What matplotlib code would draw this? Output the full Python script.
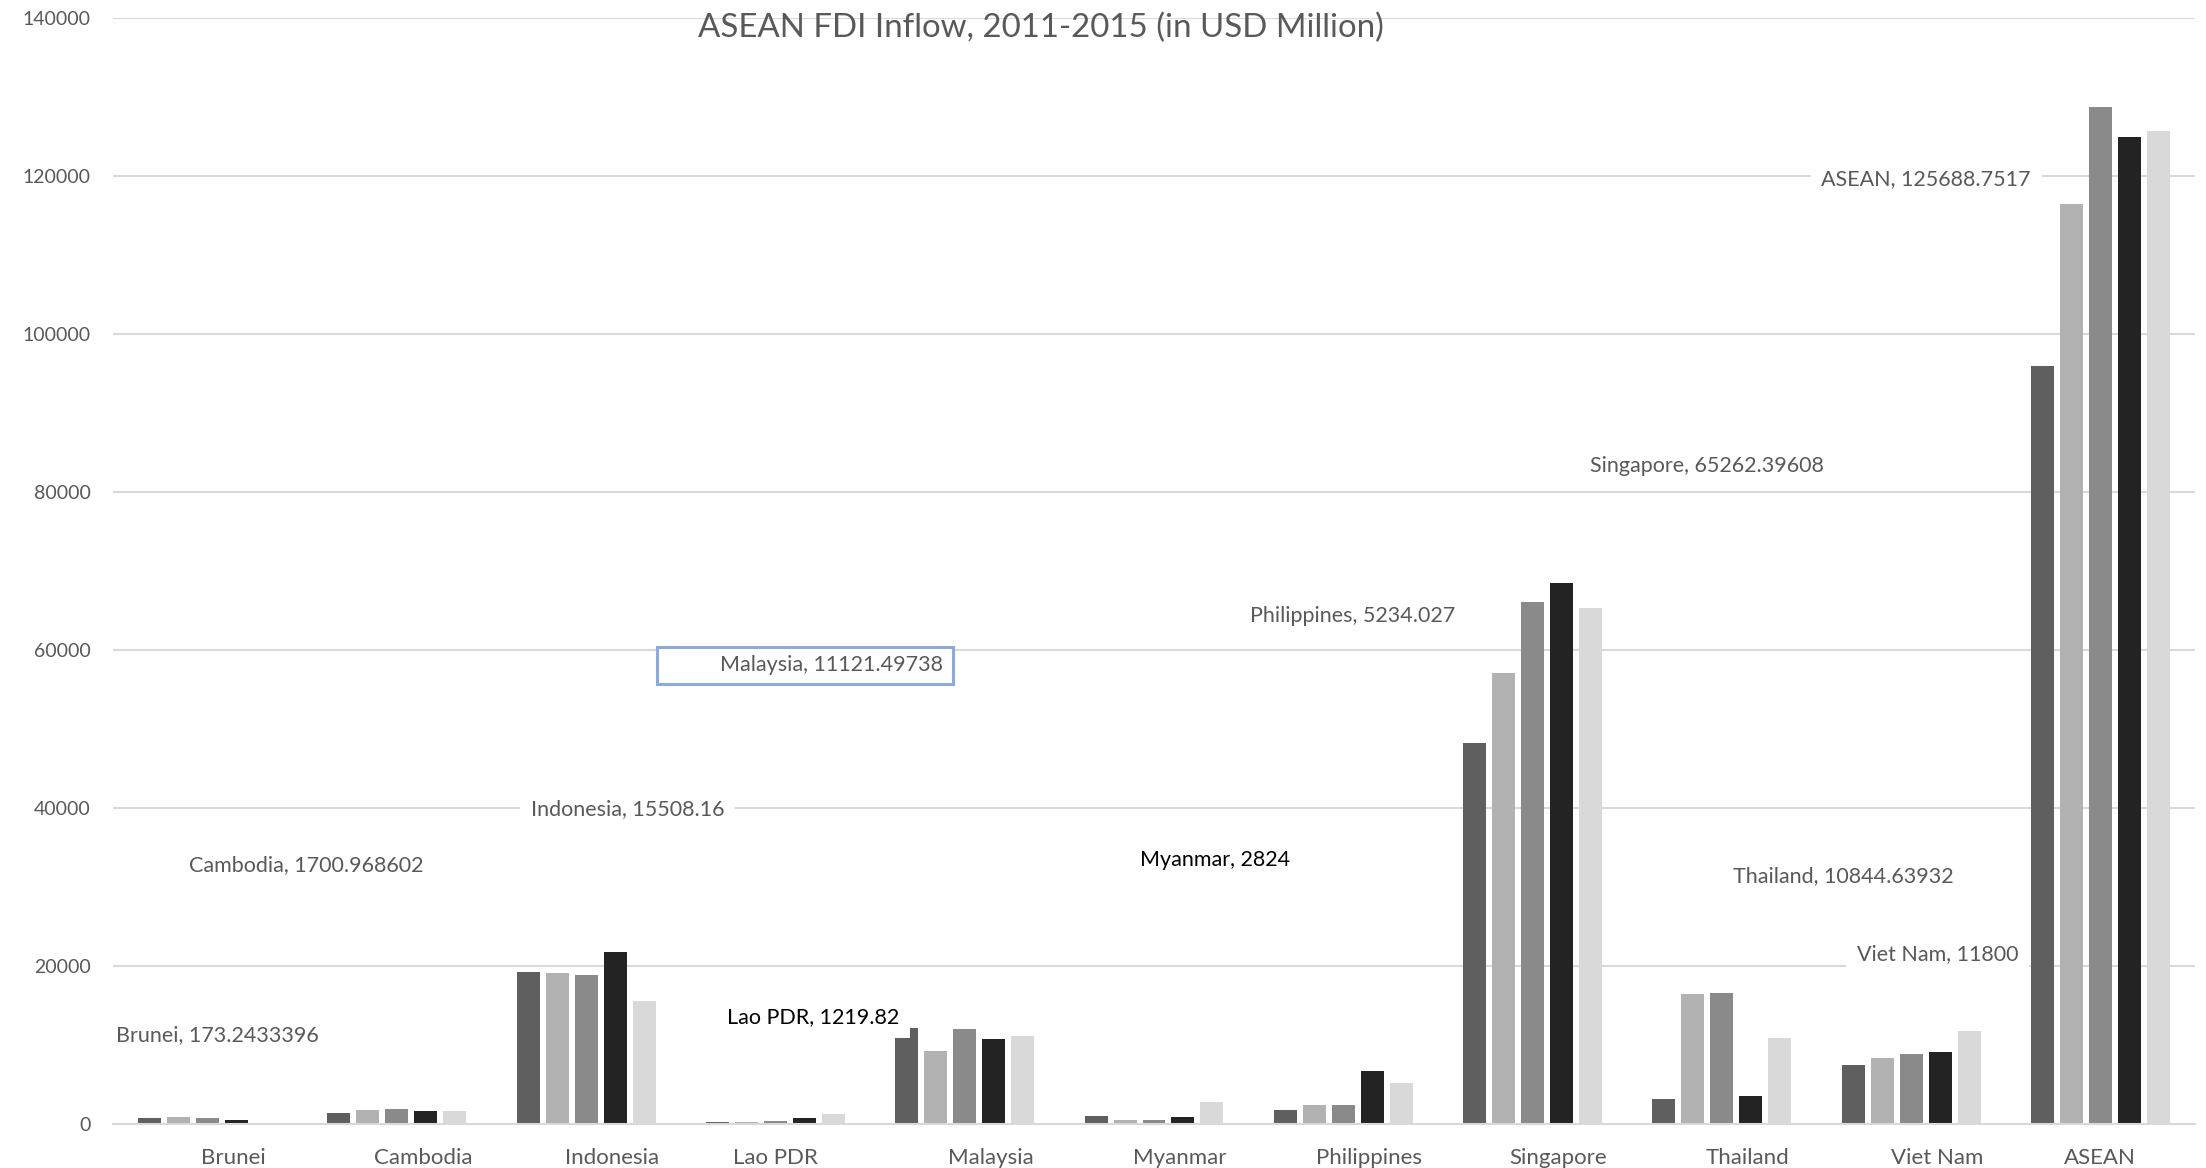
import matplotlib.pyplot as plt
import matplotlib.patches as mpatches
import numpy as np

plt.rcParams['font.family'] = ['Lato', 'DejaVu Sans']

countries = ['Brunei', 'Cambodia', 'Indonesia', 'Lao PDR', 'Malaysia', 'Myanmar',
             'Philippines', 'Singapore', 'Thailand', 'Viet Nam', 'ASEAN']
years = ['2011', '2012', '2013', '2014', '2015']

# values (USD million)
fdi_2011 = [700, 1350, 19200, 300, 12150, 1050, 1770, 48230, 3200, 7470, 95960]
fdi_2012 = [865, 1780, 19110, 294, 9240, 470, 2400, 57090, 16500, 8310, 116460]
fdi_2013 = [776, 1860, 18820, 427, 12070, 510, 2430, 66080, 16580, 8860, 128770]
fdi_2014 = [568, 1690, 21810, 721, 10800, 890, 6750, 68480, 3500, 9150, 124900]
fdi_2015 = [173.2433396, 1700.968602, 15508.16, 1219.82, 11121.49738, 2824,
            5234.027, 65262.39608, 10844.63932, 11800, 125688.7517]
series = [fdi_2011, fdi_2012, fdi_2013, fdi_2014, fdi_2015]
colors = ['#5f5f5f', '#b2b2b2', '#8a8a8a', '#232323', '#d9d9d9']

# where the data labels were dragged to (category units, data units)
label_x = [0.05, 0.52, 2.22, 3.20, 3.885, 5.32, 6.05, 7.92, 8.64, 9.14, 9.08]
label_y = [11200, 32760, 39870, 13520, 58040, 33470, 64280, 83330, 31330, 21530, 119660]
label_col = ['#595959', '#595959', '#595959', 'black', '#595959', 'black',
             '#595959', '#595959', '#595959', '#595959', '#595959']
tick_shift = [0.137, 0.137, 0.137, 0, 0.137, 0.137, 0.137, 0.137, 0.137, 0.137, 0]

fig = plt.figure(figsize=(22.06, 11.68), dpi=100)
ax = fig.add_axes([113/2206, 1 - 1124/1168, 2082/2206, 1106/1168])

x = np.arange(len(countries))
step = 0.1532
for j, vals in enumerate(series):
    ax.bar(x + (j - 2) * step, vals, width=0.1215, color=colors[j], zorder=2, label=years[j])

ax.set_xlim(-0.5, len(countries) - 0.5)
ax.set_ylim(0, 140000)
ax.set_yticks(range(0, 140001, 20000))
ax.set_yticklabels([str(v) for v in range(0, 140001, 20000)])
ax.yaxis.grid(True, color='#d9d9d9', linewidth=1.5, zorder=0)
ax.set_axisbelow(True)
for s in ['top', 'right', 'left']:
    ax.spines[s].set_visible(False)
ax.spines['bottom'].set_color('#d9d9d9')
ax.spines['bottom'].set_linewidth(1.5)
ax.tick_params(axis='both', length=0, colors='#595959')
ax.tick_params(axis='y', pad=16, labelsize=14)
ax.tick_params(axis='x', pad=17, labelsize=16)
ax.set_xticks(x + np.array(tick_shift))
ax.set_xticklabels(countries)

for i, c in enumerate(countries):
    txt = '%s, %s' % (c, series[4][i])
    if c == 'Malaysia':
        ax.add_patch(mpatches.Rectangle((2.374, 55700), 1.563, 4680, facecolor='white',
                                        edgecolor='#8eaadb', linewidth=2.2, zorder=4))
        ax.text(label_x[i], label_y[i], txt, ha='right', va='center', fontsize=15.5,
                color=label_col[i], zorder=5)
    else:
        ax.text(label_x[i], label_y[i], txt, ha='center', va='center', fontsize=15.5,
                color=label_col[i], zorder=5,
                bbox=dict(boxstyle='square,pad=0.5', facecolor='white', edgecolor='none'))

fig.text(1041/2206, 1 - 28/1168, 'ASEAN FDI Inflow, 2011-2015 (in USD Million)',
         ha='center', va='center', fontsize=23.8, color='#595959')

fig.savefig('out.png', dpi=100, facecolor='white')
